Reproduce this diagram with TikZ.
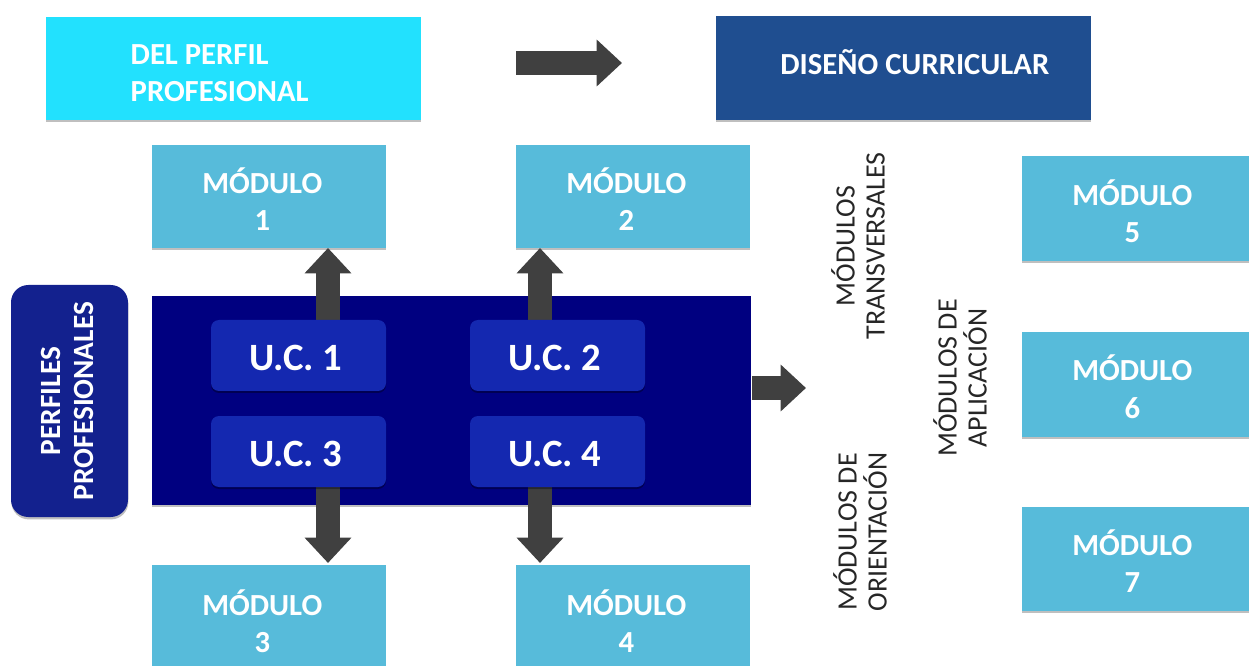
\documentclass[tikz,border=0pt]{standalone}
\usepackage{fontspec}
\setmainfont{Carlito}
\usetikzlibrary{fit,calc,arrows.meta,shadows}
\definecolor{cyanbox}{HTML}{22E1FE}
\definecolor{designblue}{HTML}{1F4E90}
\definecolor{modblue}{HTML}{57BBDA}
\definecolor{navybg}{HTML}{000080}
\definecolor{profblue}{HTML}{13218E}
\definecolor{ucblue}{HTML}{1428B0}
\definecolor{arrowgray}{HTML}{404040}
\definecolor{sidetext}{HTML}{262626}

\begin{document}
\begin{tikzpicture}[x=0.75pt,y=-0.75pt,
  box/.style={inner sep=0pt, outer sep=0pt, draw=none},
  shadowed/.style={drop shadow={shadow xshift=0.3pt, shadow yshift=-1.8pt, opacity=0.25, fill=black}},
  boldtext/.style={text=white, font=\bfseries\fontsize{23}{28}\selectfont, align=center},
  uctext/.style={text=white, font=\bfseries\fontsize{29}{32}\selectfont},
  modbox/.style={box, shadowed, fill=modblue,
    label={[boldtext, xshift=-5pt, yshift=-1.8pt]center:#1}},
  ucbox/.style={box, fill=ucblue, rounded corners=6pt,
    drop shadow={shadow xshift=0pt, shadow yshift=-1.5pt, opacity=0.35, fill=black},
    label={[uctext, xshift=-2pt, yshift=-2pt]center:#1}},
  sidelabel/.style={rotate=90, align=center, text=sidetext, font=\fontsize{21}{22.5}\selectfont},
  blockarrow/.style={draw=arrowgray, line width=17.5pt, -{Triangle[length=19pt,width=34pt]}},
]
\useasboundingbox (0,0) rectangle (1249,666);

% header boxes
\node[box, shadowed, fill=cyanbox, fit={(46,17) (421,120)},
  label={[boldtext, align=left, anchor=west, xshift=60pt, yshift=-3.5pt]west:DEL PERFIL\\PROFESIONAL}] (del) {};
\node[box, shadowed, fill=designblue, fit={(716,16) (1091,120)},
  label={[boldtext, xshift=8.5pt, yshift=4.5pt]center:DISEÑO CURRICULAR}] (dis) {};

% modules around the competence units
\node[modbox={MÓDULO\\1}, fit={(152,145) (386,248)}] (m1) {};
\node[modbox={MÓDULO\\2}, fit={(516,145) (750,248)}] (m2) {};
\node[modbox={MÓDULO\\3}, fit={(152,565) (386,672)}] (m3) {};
\node[modbox={MÓDULO\\4}, fit={(516,565) (750,672)}] (m4) {};

% modules on the right
\node[modbox={MÓDULO\\5}, fit={(1022,156) (1256,261)}] (m5) {};
\node[modbox={MÓDULO\\6}, fit={(1022,332) (1256,437)}] (m6) {};
\node[modbox={MÓDULO\\7}, fit={(1022,507) (1256,611)}] (m7) {};

% professional profiles
\node[box, shadowed, fill=profblue, rounded corners=13pt, fit={(11,285) (128,517)}] (perf) {};
\node[rotate=90, align=center, text=white, font=\bfseries\fontsize{22}{25}\selectfont]
  (perftext) at ($(perf.center)+(-2,0)$) {PERFILES\\PROFESIONALES};

% block of competence units
\node[box, shadowed, fill=navybg, fit={(152,296) (751,505)}] (big) {};

% arrows from the units to the modules
\path (328,320) coordinate (a1s) (540,320) coordinate (a2s)
      (328,487) coordinate (a3s) (540,487) coordinate (a4s);
\draw[blockarrow] (a1s) -- (a1s |- m1.south);
\draw[blockarrow] (a2s) -- (a2s |- m2.south);
\draw[blockarrow] (a3s) -- ([yshift=1.5pt]a3s |- m3.north);
\draw[blockarrow] (a4s) -- ([yshift=1.5pt]a4s |- m4.north);

\node[ucbox={U.C. 1}, fit={(211,320) (386,391)}] (uc1) {};
\node[ucbox={U.C. 2}, fit={(470,320) (645,391)}] (uc2) {};
\node[ucbox={U.C. 3}, fit={(211,416) (386,487)}] (uc3) {};
\node[ucbox={U.C. 4}, fit={(470,416) (645,487)}] (uc4) {};

% arrow from the units to the module groups
\coordinate (rs) at ($(big.east |- 0,388)+(1,0)$);
\coordinate (rt) at (806,388);
\draw[blockarrow, line width=18pt] (rs) -- (rt);

% arrow between the header boxes
\coordinate (hs) at ($(del.east |- 0,63)+(95,0)$);
\coordinate (ht) at ($(dis.west |- 0,63)+(-94,0)$);
\draw[blockarrow] (hs) -- (ht);

% module group labels
\node[sidelabel] (trans) at (858,246) {MÓDULOS\\TRANSVERSALES};
\node[sidelabel] (aplic) at (960,378) {MÓDULOS DE\\APLICACIÓN};
\node[sidelabel] (orient) at (860,532) {MÓDULOS DE\\ORIENTACIÓN};
\end{tikzpicture}
\end{document}
